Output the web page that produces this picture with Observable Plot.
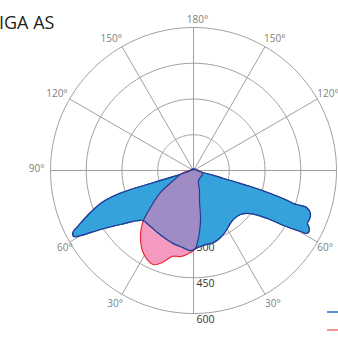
<!DOCTYPE html>
<html><head><meta charset="utf-8">
<script src="https://cdn.jsdelivr.net/npm/d3@7"></script>
<script src="https://cdn.jsdelivr.net/npm/@observablehq/plot@0.6"></script>
<style>
html,body{margin:0;padding:0;background:#fff;}
#wrap{position:relative;width:338px;height:338px;overflow:hidden;}
</style></head><body><div id="wrap"></div>
<script>
const titleText = "IGA AS";
const ringValues = [150, 300, 450, 600];
const radialLabelValues = [300, 450, 600];
const spokeAngles = [0, 30, 60, 90, 120, 150, 180, -150, -120, -90, -60, -30];
const angleLabelAngles = [180, 150, 120, 60, 30, -150, -120, -90, -60, -30];

// C0-C180 plane (blue): angle in degrees from nadir (negative = left), intensity
const blueAngle = [180, -120, -90, -76, -73.3, -73.2, -73.2, -72.2, -70.5, -67.3, -64.4, -62.9, -61.2, -60.1, -57.6, -53.5, -45.6, -37.5, -30.1, -22.4, -15.3, -8.1, -2.1, 3, 9.2, 15.5, 22, 27.7, 32, 39.2, 46.9, 53, 57, 58.6, 60.3, 61.1, 63.4, 65.1, 67.1, 69.8, 71.9, 71.9, 71.7, 72.3, 73.4, 74.3, 74.7, 75.1, 76.8, 77.5, 90, 120];
const blueValue = [7, 9, 12, 30, 100, 188, 276, 357, 414, 478, 535, 568, 574, 549, 462, 381, 300, 296, 301, 309, 318, 326, 336, 324, 315, 314, 303, 289, 277, 265, 270, 300, 370, 443, 517, 546, 544, 527, 528, 523, 499, 472, 442, 414, 337, 248, 191, 130, 73, 39, 15, 9];

// C90-C270 plane (pink)
const pinkAngle = [-150, -78.7, -63.4, -56.3, -49.3, -45, -40.1, -34, -28.1, -23, -18.6, -13.7, -7.9, -3.4, 0, 1.5, 4.3, 8, 11.3, 16.7, 26.6, 71.6, 116.6, 160];
const pinkValue = [3, 43, 94, 166, 238, 297, 345, 390, 419, 429, 407, 371, 364, 349, 336, 327, 282, 212, 128, 88, 47, 40, 10, 3];

const rad = a => a * Math.PI / 180;
const toXY = (a, v) => ({x: v * Math.sin(rad(a)), y: -v * Math.cos(rad(a))});
const blue = blueAngle.map((a, i) => toXY(a, blueValue[i]));
const pink = pinkAngle.map((a, i) => toXY(a, pinkValue[i]));

const ringPts = ringValues.flatMap(v => d3.range(0, 361, 2).map(a => ({...toXY(a, v), ring: v})));
const spokes = spokeAngles.map(a => { const p = toXY(a, 600); return {x1: 0, y1: 0, x2: p.x, y2: p.y}; });

function angleLabelMarks() {
  const rightOff = {150: [-1, -8], 120: [0, -5], 90: [6, -2], 60: [0, 6], 30: [0, 9]};
  const leftOff = {150: [0, -8], 120: [-2, -5], 90: [-6, -2], 60: [3, 6], 30: [1, 9]};
  return angleLabelAngles.map(a => {
    const s = Math.abs(a);
    let anchor, off;
    if (s === 180) { anchor = "middle"; off = [4, -8]; }
    else if (a > 0) { anchor = "start"; off = rightOff[s]; }
    else { anchor = "end"; off = leftOff[s]; }
    return Plot.text([toXY(a, 600)], {x: "x", y: "y", text: () => s + "°", textAnchor: anchor, dx: off[0], dy: off[1], fill: "#808080", fontSize: 10});
  });
}

const plot = Plot.plot({
  width: 338, height: 338,
  marginLeft: 50, marginRight: 2, marginTop: 27, marginBottom: 25,
  x: {domain: [-600, 600], axis: null},
  y: {domain: [-600, 600], axis: null},
  style: {fontFamily: "Open Sans", background: "#fff", overflow: "visible"},
  marks: [
    Plot.line(ringPts, {x: "x", y: "y", z: "ring", stroke: "#a0a0a0", strokeWidth: 1}),
    Plot.link(spokes, {x1: "x1", y1: "y1", x2: "x2", y2: "y2", stroke: "#a0a0a0", strokeWidth: 1}),
    Plot.text(radialLabelValues, {x: () => 0, y: d => -d, text: d => String(d), textAnchor: "start", lineAnchor: "top", dx: 3, dy: 2, fill: "#333", fontSize: 10.5}),
    ...angleLabelMarks(),
    Plot.line(pink, {x: "x", y: "y", curve: "catmull-rom-closed", fill: "#f49ac1", stroke: "#ec2b3a", strokeWidth: 1.2, ariaDescription: "pink-shape"}),
    Plot.line(blue, {x: "x", y: "y", curve: "catmull-rom-closed", fill: "#36a2dc", stroke: "#1f55a3", strokeWidth: 1.2, ariaDescription: "blue-shape"}),
    Plot.line(pink, {x: "x", y: "y", curve: "catmull-rom-closed", fill: "#a08cc4", stroke: "#2e3a8f", strokeWidth: 1.2, ariaDescription: "overlap"}),
    Plot.line(blue, {x: "x", y: "y", curve: "catmull-rom-closed", fill: "none", stroke: "#243f98", strokeWidth: 1.2, ariaDescription: "blue-outline"}),
    Plot.text([titleText], {frameAnchor: "top-left", text: d => d, textAnchor: "start", lineAnchor: "bottom", dx: -51.5, dy: 1, fontSize: 18, fill: "#231f20"})
  ]
});

document.getElementById("wrap").appendChild(plot);

// clip the overlap to the blue shape
const svg = d3.select(plot);
const bluePath = svg.select('g[aria-description="blue-shape"] path');
if (!bluePath.empty()) {
  svg.append("defs").append("clipPath").attr("id", "clipBlue")
    .append("path").attr("d", bluePath.attr("d"));
  svg.selectAll('g[aria-description="overlap"] path').attr("clip-path", "url(#clipBlue)");
}

// legend samples (clipped at right edge)
const legendColors = ["#1f6fc4", "#f2707a"];
const legendY = [312, 330];
legendColors.forEach((c, i) => {
  svg.append("line").attr("x1", 327).attr("x2", 360).attr("y1", legendY[i]).attr("y2", legendY[i])
    .attr("stroke", c).attr("stroke-width", 1.5);
});
</script>
</body></html>
